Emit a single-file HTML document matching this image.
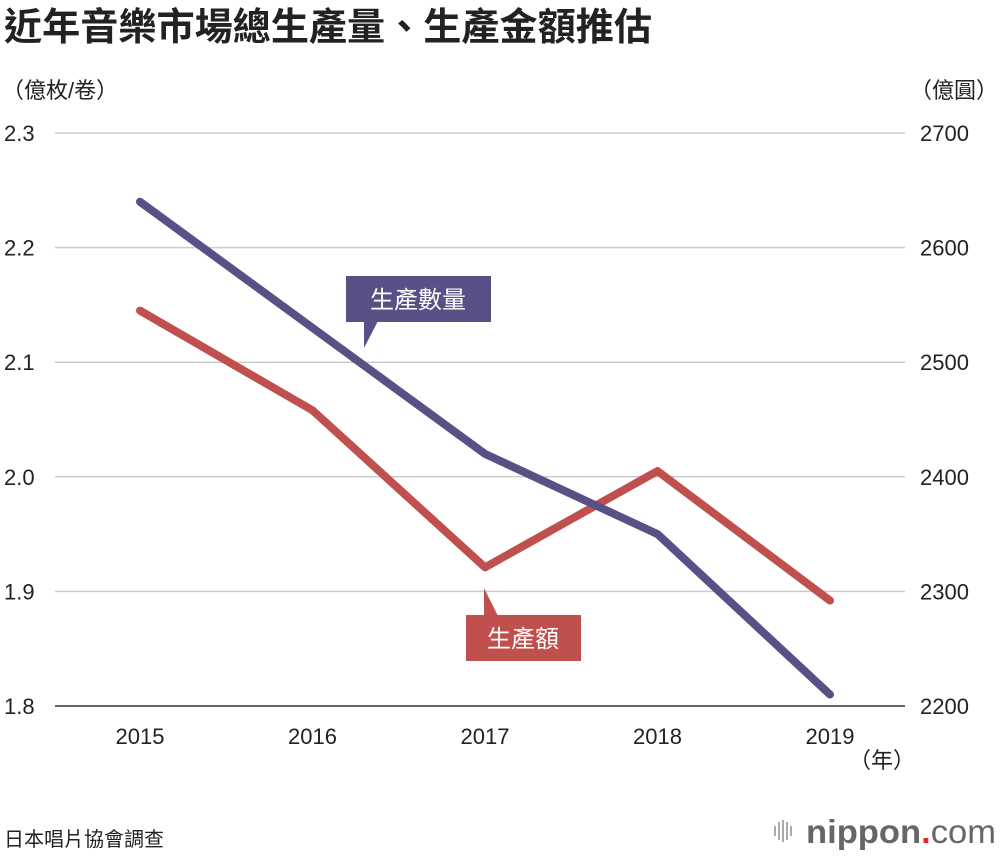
<!DOCTYPE html>
<html><head><meta charset="utf-8"><style>
body{margin:0;background:#fff;width:1000px;height:856px;overflow:hidden;font-family:"Liberation Sans","Noto Sans CJK TC",sans-serif;}
svg text{font-family:"Liberation Sans","Noto Sans CJK TC",sans-serif;}
</style></head><body>
<svg id="chart" width="1000" height="856" xmlns="http://www.w3.org/2000/svg">
<text x="4" y="40" font-size="38" font-weight="bold" fill="#222" textLength="648" lengthAdjust="spacingAndGlyphs">近年音樂市場總生產量、生產金額推估</text>
<text x="2" y="98" font-size="22" fill="#222">（億枚/卷）</text>
<text x="998" y="98" font-size="22" fill="#222" text-anchor="end">（億圓）</text>
<g id="grid"></g>
<g id="series"></g>
<g>
<rect x="346" y="276" width="145" height="46" fill="#575185"/>
<polygon points="364,321 378,321 364,348" fill="#575185"/>
<text x="418" y="308" font-size="24" fill="#fff" text-anchor="middle">生產數量</text>
</g>
<g>
<rect x="466" y="615" width="115" height="46" fill="#c0504d"/>
<polygon points="484,616 498,616 484,588" fill="#c0504d"/>
<text x="523" y="647" font-size="24" fill="#fff" text-anchor="middle">生產額</text>
</g>
<text x="915" y="768" font-size="22" fill="#222" text-anchor="end">（年）</text>
<text x="4" y="846" font-size="20" fill="#222">日本唱片協會調查</text>
<g>
<rect x="774" y="826" width="2" height="10" fill="#aaa"/><rect x="778" y="822" width="2" height="18" fill="#aaa"/><rect x="782" y="820" width="2" height="22" fill="#aaa"/><rect x="786" y="822" width="2" height="18" fill="#aaa"/><rect x="790" y="826" width="2" height="10" fill="#aaa"/>
<text x="806" y="843" font-size="33" font-weight="bold" fill="#666" textLength="190" lengthAdjust="spacingAndGlyphs">nippon<tspan fill="#e22">.</tspan><tspan font-weight="normal">com</tspan></text>
</g>
</svg>
<script>
const years=["2015","2016","2017","2018","2019"];
const quantity=[2.24,2.13,2.02,1.95,1.81];
const amount=[2545,2458,2321,2405,2292];
const leftTicks=["1.8","1.9","2.0","2.1","2.2","2.3"];
const rightTicks=["2200","2300","2400","2500","2600","2700"];
const NS="http://www.w3.org/2000/svg";
const yL=v=>706-(v-1.8)/0.5*573;
const yR=v=>706-(v-2200)/500*573;
const x=i=>140+i*172.5;
const grid=document.getElementById('grid'),ser=document.getElementById('series');
function mk(t,a,p){const e=document.createElementNS(NS,t);for(const k in a)e.setAttribute(k,a[k]);p.appendChild(e);return e;}
leftTicks.forEach((t,i)=>{const y=yL(+t);
const l=mk('line',{x1:55,x2:905,y1:y,y2:y,stroke:i==0?'#333':'#ccc','stroke-width':1.5},grid);


const a=mk('text',{x:4,y:y+8,'font-size':22,fill:'#222'},grid);a.textContent=t;


const b=mk('text',{x:920,y:y+8,'font-size':22,fill:'#222'},grid);b.textContent=rightTicks[i];


});
years.forEach((t,i)=>{const e=mk('text',{x:x(i),y:744,'font-size':22,fill:'#222','text-anchor':'middle'},grid);e.textContent=t;

});
const pa=mk('polyline',{points:amount.map((v,i)=>x(i)+','+yR(v)).join(' '),fill:'none',stroke:'#c0504d','stroke-width':8,'stroke-linecap':'round','stroke-linejoin':'round'},ser);


const pq=mk('polyline',{points:quantity.map((v,i)=>x(i)+','+yL(v)).join(' '),fill:'none',stroke:'#575185','stroke-width':8,'stroke-linecap':'round','stroke-linejoin':'round'},ser);


</script>
</body></html>
